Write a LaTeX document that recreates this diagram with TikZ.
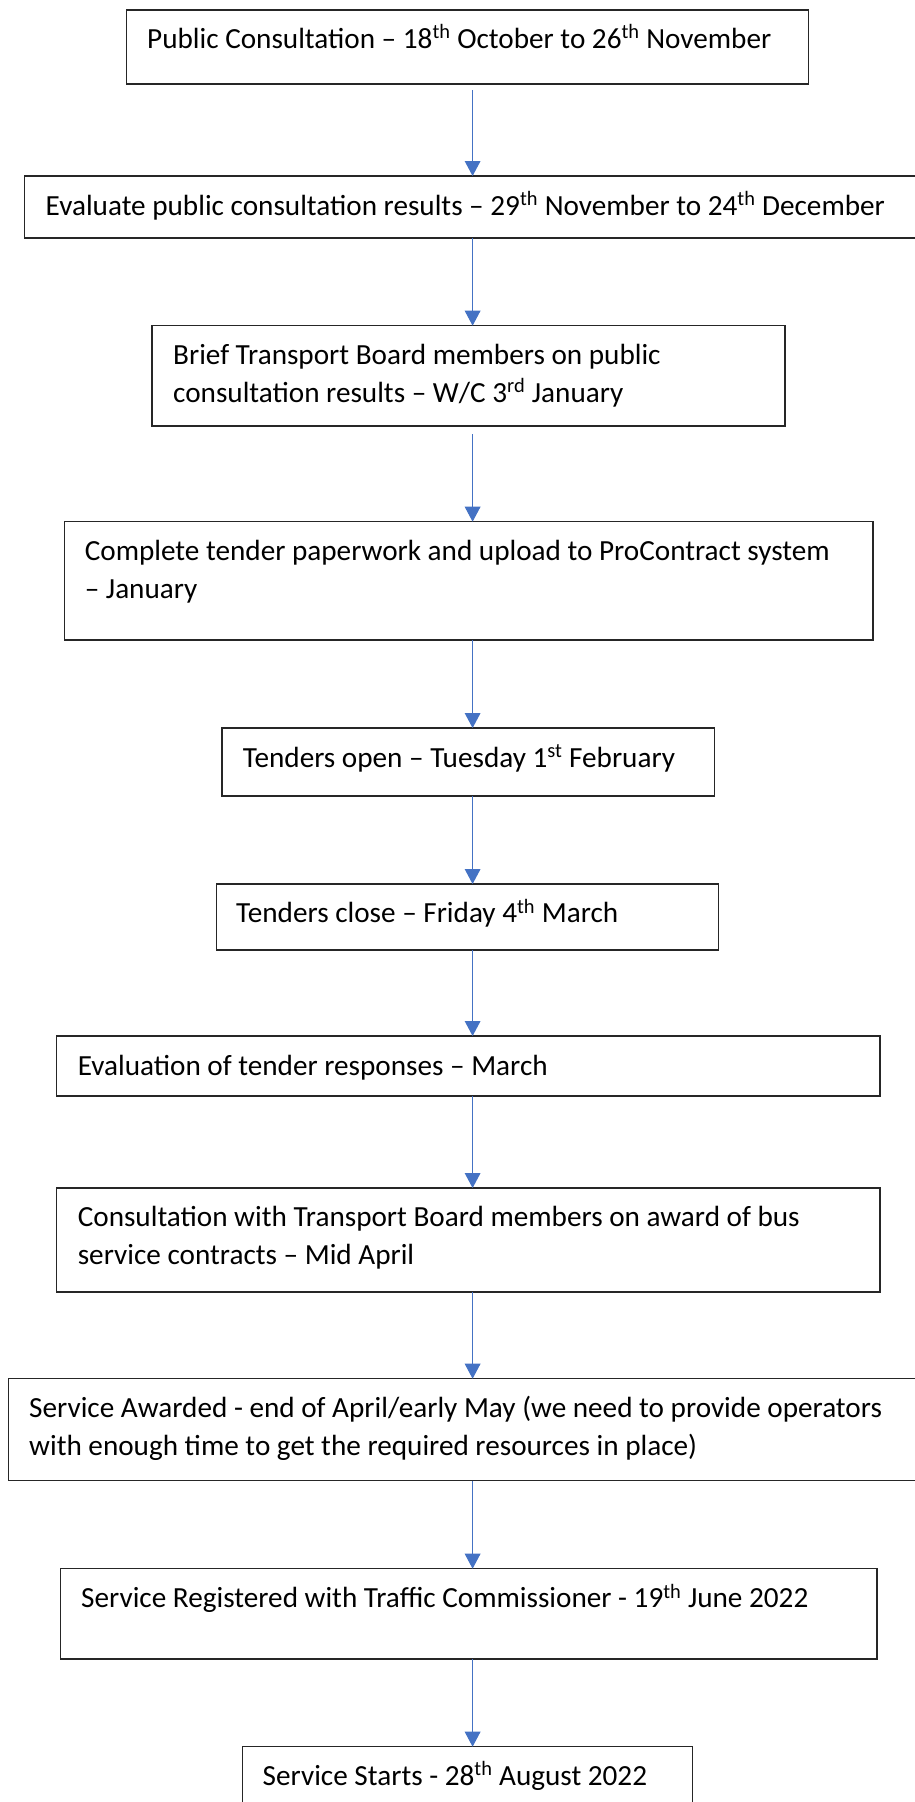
\documentclass[tikz,border=0pt]{standalone}
\usepackage{fontspec}
\setmainfont{Carlito}
\usetikzlibrary{arrows.meta}
\definecolor{arrowblue}{HTML}{4472C4}
\definecolor{boxline}{HTML}{262626}
\begin{document}
\begin{tikzpicture}[x=1pt,y=-1pt,
  stepbox/.style={draw=boxline, line width=1.2pt, inner sep=0pt, outer sep=0pt},
  txt/.style={anchor=base west, inner sep=0pt, align=left, font=\fontsize{29.2}{38}\selectfont},
  flow/.style={draw=arrowblue, line width=1.1pt, -{Triangle[width=15.7pt,length=15pt]}}]
\useasboundingbox (0,0) rectangle (915,1802);
\clip (0,0) rectangle (915,1802);
\coordinate (ax) at (472.6,0);
% boxes
\node[stepbox, minimum width=682pt, minimum height=74pt] (b1) at (467.6,47) {};
\node[stepbox, minimum width=895.5pt, minimum height=62pt] (b2) at (472.25,207) {};
\node[stepbox, minimum width=633pt, minimum height=100.3pt] (b3) at (468.5,375.85) {};
\node[stepbox, minimum width=808.2pt, minimum height=118.3pt] (b4) at (468.9,580.85) {};
\node[stepbox, minimum width=492.7pt, minimum height=68pt] (b5) at (468.35,762) {};
\node[stepbox, minimum width=502.3pt, minimum height=66pt] (b6) at (467.65,917) {};
\node[stepbox, minimum width=823.4pt, minimum height=60pt] (b7) at (468.3,1066) {};
\node[stepbox, minimum width=823.4pt, minimum height=104pt] (b8) at (468.3,1240) {};
\node[stepbox, minimum width=911.2pt, minimum height=102pt] (b9) at (464.4,1429.7) {};
\node[stepbox, minimum width=816.3pt, minimum height=90.3pt] (b10) at (468.85,1613.85) {};
\node[stepbox, minimum width=449.8pt, minimum height=68.3pt] (b11) at (467.6,1780.85) {};
% texts (multi-line nodes: base is the last line)
\node[txt] (t1) at (147,48) {Public Consultation – 18\textsuperscript{th} October to 26\textsuperscript{th} November};
\node[txt] (t2) at (45.5,215) {Evaluate public consultation results – 29\textsuperscript{th} November to 24\textsuperscript{th} December};
\node[txt] (t3) at (173,402) {Brief Transport Board members on public\\consultation results – W/C 3\textsuperscript{rd} January};
\node[txt] (t4) at (84.6,598) {Complete tender paperwork and upload to ProContract system\\– January};
\node[txt] (t5) at (242.7,767) {Tenders open – Tuesday 1\textsuperscript{st} February};
\node[txt] (t6) at (236,922.7) {Tenders close – Friday 4\textsuperscript{th} March};
\node[txt] (t7) at (77.6,1075) {Evaluation of tender responses – March};
\node[txt] (t8) at (77.6,1264) {Consultation with Transport Board members on award of bus\\service contracts – Mid April};
\node[txt] (t9) at (29,1455) {Service Awarded - end of April/early May (we need to provide operators\\with enough time to get the required resources in place)};
\node[txt] (t10) at (81,1607.3) {Service Registered with Traffic Commissioner - 19\textsuperscript{th} June 2022};
\node[txt] (t11) at (262.5,1785) {Service Starts - 28\textsuperscript{th} August 2022};
% connectors
\draw[flow] ([yshift=-6pt]b1.south -| ax) -- (b2.north -| ax);
\draw[flow] (b2.south -| ax) -- (b3.north -| ax);
\draw[flow] ([yshift=-8pt]b3.south -| ax) -- (b4.north -| ax);
\draw[flow] (b4.south -| ax) -- (b5.north -| ax);
\draw[flow] (b5.south -| ax) -- (b6.north -| ax);
\draw[flow] (b6.south -| ax) -- (b7.north -| ax);
\draw[flow] (b7.south -| ax) -- (b8.north -| ax);
\draw[flow] (b8.south -| ax) -- (b9.north -| ax);
\draw[flow] (b9.south -| ax) -- (b10.north -| ax);
\draw[flow] (b10.south -| ax) -- (b11.north -| ax);
\end{tikzpicture}
\end{document}
